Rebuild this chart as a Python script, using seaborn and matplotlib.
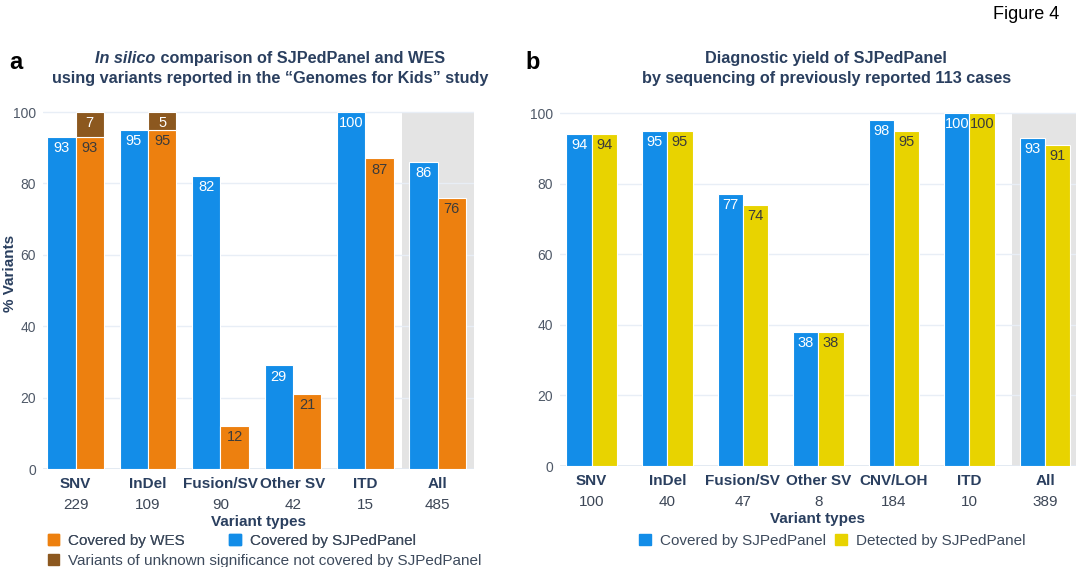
import pandas as pd
import matplotlib.pyplot as plt
import seaborn as sns
from matplotlib.patches import Patch

# ---------------- data ----------------
left_types = ["SNV", "InDel", "Fusion/SV", "Other SV", "ITD", "All"]
left_counts = [229, 109, 90, 42, 15, 485]
left_panel = [93, 95, 82, 29, 100, 86]
left_wes = [93, 95, 12, 21, 87, 76]
left_unknown = [7, 5, 0, 0, 0, 0]

right_types = ["SNV", "InDel", "Fusion/SV", "Other SV", "CNV/LOH", "ITD", "All"]
right_counts = [100, 40, 47, 8, 184, 10, 389]
right_covered = [94, 95, 77, 38, 98, 100, 93]
right_detected = [94, 95, 74, 38, 95, 100, 91]

# ---------------- style ----------------
sns.set_style("white")
plt.rcParams["font.family"] = ["Liberation Sans", "DejaVu Sans"]

BLUE = "#138de8"
ORANGE = "#ed800f"
BROWN = "#8c581f"
YELLOW = "#e8d300"
SPAN = "#e4e4e4"
TITLE_C = "#2a3f5f"
TICK_C = "#4f5968"
DARK_TXT = "#3b3b3b"

fig = plt.figure(figsize=(10.8, 5.67), dpi=100)
ax_a = fig.add_axes([0.0398, 0.1728, 0.399, 0.6328])
ax_b = fig.add_axes([0.5185, 0.178, 0.4778, 0.6257])


def draw_panel(ax, types, counts, s1, s2, names, colors, width, xlim, span):
    df = pd.DataFrame({
        "type": types * 2,
        "value": s1 + s2,
        "series": [names[0]] * len(types) + [names[1]] * len(types),
    })
    sns.barplot(data=df, x="type", y="value", hue="series", order=types,
                hue_order=names, palette=colors, width=width, saturation=1,
                edgecolor="white", linewidth=0.8, errorbar=None, legend=False,
                ax=ax, zorder=3)
    ax.set_xlim(*xlim)
    ax.set_ylim(0, 100.5)
    ax.axvspan(span[0], span[1], ymin=0, ymax=100 / 100.5, color=SPAN, lw=0, zorder=0.3)
    ax.set_axisbelow(True)
    ax.yaxis.grid(True, color="#e8eef6", lw=1, zorder=0.5)
    ax.axhline(0, color="#e1e8f1", lw=2, zorder=0.6)
    for s in ax.spines.values():
        s.set_visible(False)
    ax.set_yticks([0, 20, 40, 60, 80, 100])
    ax.tick_params(axis="y", length=3, color="#d9dee6", labelsize=10,
                   labelcolor=TICK_C, pad=2)
    ax.set_xticks(range(len(types)))
    ax.set_xticklabels(types, fontweight="bold", fontsize=11, color=TITLE_C)
    ax.tick_params(axis="x", length=0, pad=6)
    for i, c in enumerate(counts):
        ax.annotate(str(c), xy=(i, 0), xycoords=("data", "axes fraction"),
                    xytext=(0, -26), textcoords="offset points",
                    ha="center", va="center", fontsize=11, color="#3d4757")
    ax.set_xlabel("Variant types", fontweight="bold", fontsize=11,
                  color=TITLE_C, labelpad=17)
    ax.set_ylabel("")
    # value labels inside the bars
    for cont, tc in zip(ax.containers[:2], ["white", DARK_TXT]):
        for p in cont:
            h = p.get_height()
            ax.annotate(f"{h:.0f}", xy=(p.get_x() + p.get_width() / 2, h),
                        xytext=(0, -3), textcoords="offset points",
                        ha="center", va="top", fontsize=10.5, color=tc, zorder=5)


draw_panel(ax_a, left_types, left_counts, left_panel, left_wes,
           ["SJPedPanel", "WES"], [BLUE, ORANGE], 0.78, (-0.45, 5.5), (4.51, 5.5))
draw_panel(ax_b, right_types, right_counts, right_covered, right_detected,
           ["Covered", "Detected"], [BLUE, YELLOW], 0.67, (-0.42, 6.41), (5.56, 6.41))

# stacked unknown-significance segments on top of the WES bars
for p, u in zip(ax_a.containers[1], left_unknown):
    if u <= 0:
        continue
    xc = p.get_x() + p.get_width() / 2
    ax_a.bar(xc, u, bottom=p.get_height(), width=p.get_width(), color=BROWN,
             edgecolor="white", linewidth=0.8, zorder=3)
    ax_a.annotate(f"{u}", xy=(xc, p.get_height() + u), xytext=(0, -3),
                  textcoords="offset points", ha="center", va="top",
                  fontsize=10.5, color="white", zorder=5)

fig.text(0.0095, 0.518, "% Variants", rotation=90, ha="center", va="center",
         fontweight="bold", fontsize=11, color=TITLE_C)

# ---------------- titles ----------------
renderer = fig.canvas.get_renderer()
W = fig.get_figwidth() * fig.dpi
title_kw = dict(fontsize=11.7, fontweight="bold", color=TITLE_C, va="center")
t1 = fig.text(0, 0.896, "In silico", fontstyle="italic", ha="left", **title_kw)
t2 = fig.text(0, 0.896, " comparison of SJPedPanel and WES", ha="left", **title_kw)
w1 = t1.get_window_extent(renderer).width
w2 = t2.get_window_extent(renderer).width
x0 = 0.25 * W - (w1 + w2) / 2
t1.set_x(x0 / W)
t2.set_x((x0 + w1) / W)
fig.text(0.25, 0.862, "using variants reported in the \u201cGenomes for Kids\u201d study",
         ha="center", **title_kw)
fig.text(0.765, 0.896, "Diagnostic yield of SJPedPanel", ha="center", **title_kw)
fig.text(0.765, 0.862, "by sequencing of previously reported 113 cases",
         ha="center", **title_kw)

fig.text(0.009, 0.89, "a", fontsize=17, fontweight="bold", color="black", va="center")
fig.text(0.487, 0.89, "b", fontsize=17, fontweight="bold", color="black", va="center")
fig.text(0.95, 0.975, "Figure 4", fontsize=13, color="black", ha="center", va="center")

# ---------------- legends ----------------
leg_kw = dict(frameon=False, fontsize=11, handlelength=0.75, handleheight=0.75,
              handletextpad=0.6, borderpad=0, borderaxespad=0, labelcolor="#3d4a5c")
leg1 = fig.legend([Patch(color=ORANGE), Patch(color=BLUE)],
                  ["Covered by WES", "Covered by SJPedPanel"],
                  loc="center left", bbox_to_anchor=(0.044, 0.046), ncol=2,
                  columnspacing=2.9, **leg_kw)
fig.legend([Patch(color=BROWN)],
           ["Variants of unknown significance not covered by SJPedPanel"],
           loc="center left", bbox_to_anchor=(0.044, 0.011), **leg_kw)
fig.add_artist(leg1)
fig.legend([Patch(color=BLUE), Patch(color=YELLOW)],
           ["Covered by SJPedPanel", "Detected by SJPedPanel"],
           loc="center left", bbox_to_anchor=(0.592, 0.046), ncol=2,
           columnspacing=0.6, **leg_kw)

fig.savefig("out.png", dpi=100)
